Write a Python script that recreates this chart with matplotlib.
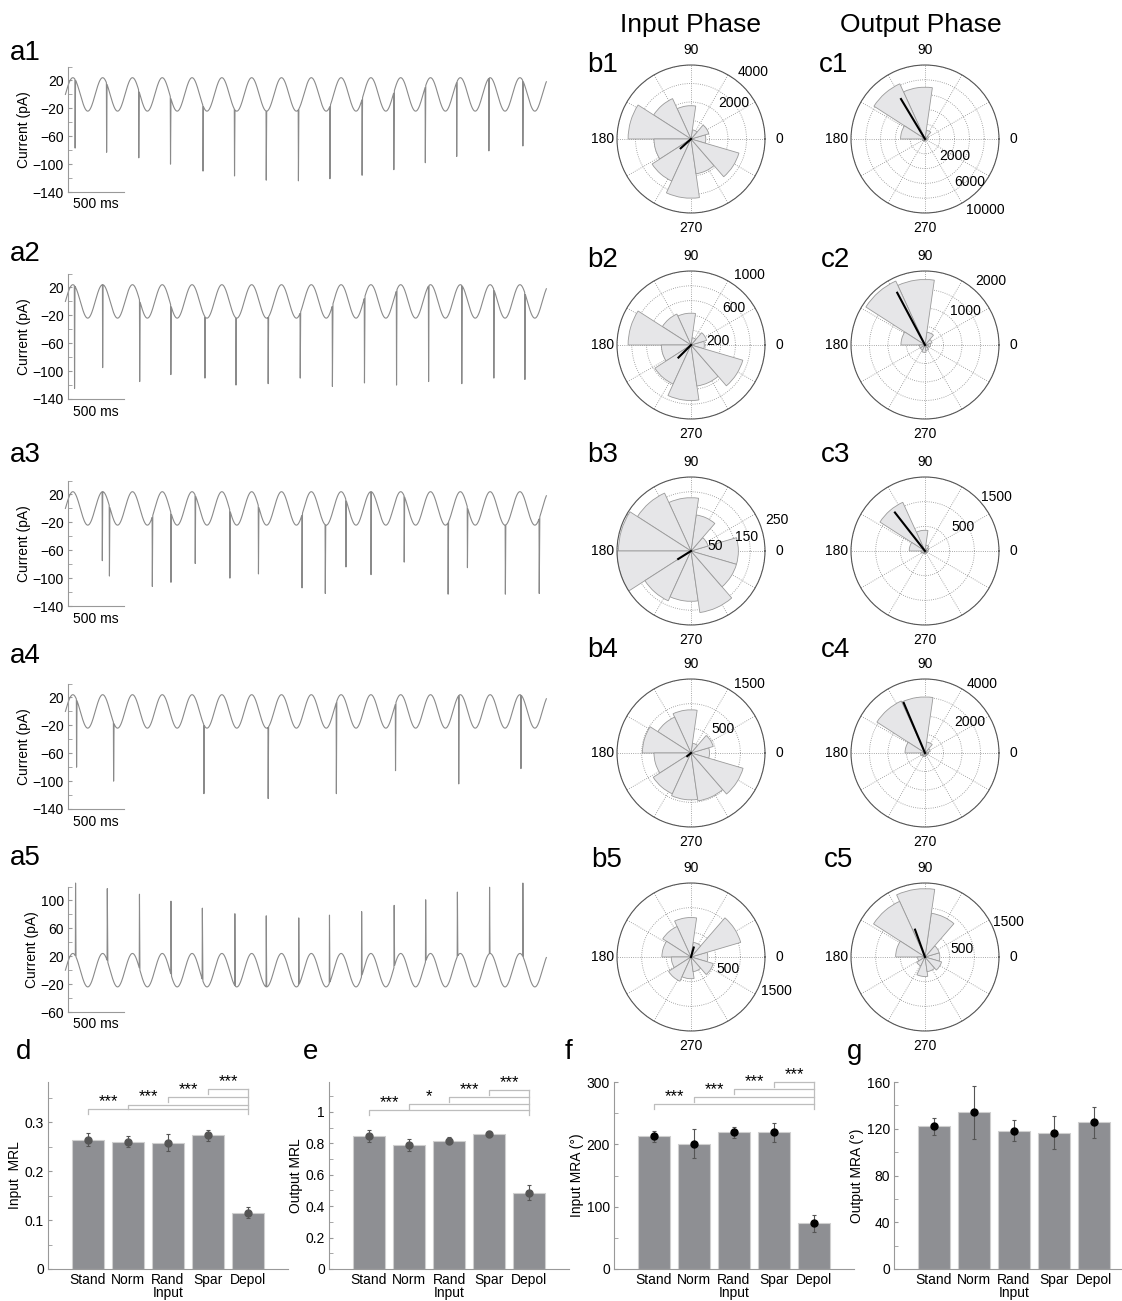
import numpy as np
import matplotlib
matplotlib.use('Agg')
import matplotlib.pyplot as plt

plt.rcParams['font.family'] = ['Liberation Sans', 'DejaVu Sans']

# ---------------- data ----------------
# sinusoidal input current (pA, ms) and spike events
PERIOD = 264
AMP = 24
T_END = 4260

a1_spk_t = [85, 364, 649, 930, 1218, 1497, 1778, 2063, 2342, 2627, 2908, 3187, 3465, 3750, 4051]
a1_spk_a = [-77, -83, -91, -100, -110, -117, -123, -124, -121, -116, -108, -98, -89, -81, -74]
a2_spk_t = [80, 329, 657, 933, 1235, 1510, 1795, 2079, 2364, 2648, 2932, 3216, 3510, 3794, 4069]
a2_spk_a = [-125, -95, -115, -105, -110, -120, -118, -110, -122, -117, -120, -115, -118, -110, -112]
a3_spk_t = [326, 389, 769, 934, 1149, 1456, 1709, 2095, 2301, 2484, 2706, 3000, 3389, 3560, 3896, 4196]
a3_spk_a = [-75, -97, -112, -106, -79, -100, -94, -114, -122, -84, -95, -77, -123, -85, -123, -122]
a4_spk_t = [98, 426, 1226, 1795, 2399, 2923, 3483, 4034]
a4_spk_a = [-80, -100, -118, -125, -118, -85, -104, -82]
a5_spk_t = [89, 370, 655, 934, 1212, 1500, 1778, 2066, 2338, 2623, 2911, 3190, 3471, 3756, 4051]
a5_spk_a = [125, 117, 109, 99, 89, 81, 78, 75, 79, 84, 93, 101, 112, 119, 125]

# rose histograms: 11 bins centred on k*360/11 deg
bin_centres = np.arange(11) * 360 / 11
b1_counts = [800, 1000, 500, 1800, 2400, 3400, 2000, 2500, 3200, 1900, 2700]
b2_counts = [180, 220, 100, 430, 460, 850, 400, 580, 750, 560, 730]
b3_counts = [160, 60, 123, 180, 215, 245, 250, 185, 170, 210, 160]
b4_counts = [375, 470, 200, 875, 800, 985, 750, 910, 950, 980, 1100]
b5_counts = [340, 1050, 300, 800, 680, 590, 400, 540, 440, 300, 470]
c1_counts = [300, 500, 1200, 7000, 8200, 3300, 400, 300, 300, 200, 200]
c2_counts = [150, 200, 350, 1770, 1900, 650, 150, 150, 200, 150, 100]
c3_counts = [60, 80, 120, 420, 1085, 320, 80, 60, 60, 50, 50]
c4_counts = [200, 300, 600, 3030, 3090, 1080, 250, 200, 200, 150, 150]
c5_counts = [300, 300, 895, 1385, 1240, 595, 150, 200, 395, 300, 350]

b_rmax = [4000, 1000, 250, 1500, 1500]
c_rmax = [10000, 2000, 1500, 4000, 1500]
b_rings = [[1000, 2000, 3000, 4000], [200, 400, 600, 800, 1000], [50, 100, 150, 200, 250],
           [500, 1000, 1500], [500, 1000, 1500]]
c_rings = [[2000, 4000, 6000, 8000, 10000], [500, 1000, 1500, 2000], [500, 1000, 1500],
           [1000, 2000, 3000, 4000], [500, 1000, 1500]]
# ring labels: (text, angle deg, radius as fraction of rmax)
b_rlabels = [[('2000', 40, 0.75), ('4000', 47, 1.24)],
             [('200', 9, 0.37), ('600', 41, 0.77), ('1000', 50, 1.23)],
             [('50', 12, 0.34), ('150', 14, 0.77), ('250', 20, 1.23)],
             [('500', 37, 0.54), ('1500', 50, 1.22)],
             [('500', -18, 0.52), ('1500', -22, 1.24)]]
c_rlabels = [[('2000', -29, 0.46), ('6000', -44, 0.84), ('10000', -50, 1.26)],
             [('1000', 40, 0.71), ('2000', 44, 1.24)],
             [('500', 32, 0.61), ('1500', 37, 1.21)],
             [('2000', 35, 0.74), ('4000', 50, 1.21)],
             [('500', 13, 0.51), ('1500', 23, 1.22)]]
# mean resultant vectors (angle deg, length)
b_mean = [(222, 750), (225, 240), (212, 51), (220, 100), (74, 200)]
c_mean = [(121, 6300), (118, 1600), (128, 990), (113, 2940), (110, 590)]

conds = ['Stand', 'Norm', 'Rand', 'Spar', 'Depol']
d_mean = [0.264, 0.260, 0.258, 0.273, 0.115]
d_err = [0.0136, 0.011, 0.0176, 0.011, 0.011]
e_mean = [0.847, 0.787, 0.817, 0.859, 0.485]
e_err = [0.037, 0.039, 0.024, 0.019, 0.047]
f_mean = [213, 201, 219, 219, 73]
f_err = [9, 23, 9, 14.6, 14]
g_mean = [122, 134, 118.5, 116.5, 125.4]
g_err = [7.6, 23, 8.8, 14, 13]

d_levels = [0.326, 0.336, 0.351, 0.367]
d_stars = ['***', '***', '***', '***']
e_levels = [1.013, 1.05, 1.093, 1.14]
e_stars = ['***', '*', '***', '***']
f_levels = [264.5, 276, 288.4, 300]
f_stars = ['***', '***', '***', '***']

# ---------------- figure ----------------
W, H = 1122, 1301
fig = plt.figure(figsize=(W / 100, H / 100), dpi=100)


def px_axes(x0, y0, w, h, **kw):
    return fig.add_axes([x0 / W, 1 - (y0 + h) / H, w / W, h / H], **kw)


def label(x, y, s, size=20):
    fig.text(x / W, 1 - y / H, s, fontsize=size, ha='left', va='center')


GREY = '#8a8a8a'

# ---- traces ----
trace_sets = [(a1_spk_t, a1_spk_a), (a2_spk_t, a2_spk_a), (a3_spk_t, a3_spk_a),
              (a4_spk_t, a4_spk_a), (a5_spk_t, a5_spk_a)]
trace_bottoms = [192, 399, 606, 809, 1012]
trace_letter_y = [53, 254, 455, 656, 858]
PX_PER_MS = 0.1129
PX_PER_PA = 0.697
X0 = 23

for i, (st, sa) in enumerate(trace_sets):
    if i < 4:
        ylo, yhi = -140, 40
    else:
        ylo, yhi = -60, 120
    w = (T_END + 30 - X0) * PX_PER_MS
    h = (yhi - ylo) * PX_PER_PA
    ax = px_axes(68, trace_bottoms[i] - h, w, h)
    t = np.arange(0, T_END + 0.5, 2.0)
    keep = np.ones(len(t), bool)
    et, ey = [], []
    for ts, a in zip(st, sa):
        keep &= ~((t > ts - 1) & (t < ts + 5))
        et += [ts - 1, ts + 1, ts + 5]
        ey += [AMP * np.sin(2 * np.pi * (ts - 1) / PERIOD), a,
               AMP * np.sin(2 * np.pi * (ts + 5) / PERIOD)]
    tt = np.concatenate([t[keep], et])
    yy = np.concatenate([AMP * np.sin(2 * np.pi * t[keep] / PERIOD), ey])
    o = np.argsort(tt)
    ax.plot(tt[o], yy[o], color=GREY, lw=0.8, clip_on=False)
    ax.set_xlim(X0, T_END + 30)
    ax.set_ylim(ylo, yhi)
    for s in ['top', 'right', 'bottom']:
        ax.spines[s].set_visible(False)
    ax.spines['left'].set_color('#999999')
    ax.spines['left'].set_linewidth(0.8)
    ax.set_xticks([])
    major = np.arange(ylo, yhi - 10, 40)
    ax.set_yticks(major)
    ax.set_yticklabels([str(v).replace('-', '\u2212') for v in major], fontsize=10)
    ax.set_yticks(np.arange(ylo + 20, yhi + 1, 40), minor=True)
    ax.tick_params(axis='y', which='both', direction='in', length=3, color='#999999', pad=3)
    ax.set_ylabel('Current (pA)', fontsize=10, labelpad=1)
    ax.plot([X0, X0 + 500], [ylo, ylo], color='#999999', lw=0.8, clip_on=False)
    ax.annotate('500 ms', xy=(X0 + 250, ylo), xytext=(0, -9), textcoords='offset points',
                ha='center', va='center', fontsize=10, annotation_clip=False)
    label(10, trace_letter_y[i], 'a%d' % (i + 1))

# ---- rose plots ----
R = 74
row_cy = [139, 345, 551, 753, 957]
col_cx = [691, 925]
b_all = [b1_counts, b2_counts, b3_counts, b4_counts, b5_counts]
c_all = [c1_counts, c2_counts, c3_counts, c4_counts, c5_counts]
letter_pos_b = [(587, 65), (587, 260), (587, 455), (587, 650), (591, 860)]
letter_pos_c = [(819, 65), (821, 260), (821, 455), (821, 650), (824, 860)]
width = np.deg2rad(360 / 11)

for col, (counts_all, rmaxs, rings, rlabs, means, lpos, pre) in enumerate([
        (b_all, b_rmax, b_rings, b_rlabels, b_mean, letter_pos_b, 'b'),
        (c_all, c_rmax, c_rings, c_rlabels, c_mean, letter_pos_c, 'c')]):
    for i in range(5):
        cx, cy = col_cx[col], row_cy[i]
        ax = px_axes(cx - R, cy - R, 2 * R, 2 * R, projection='polar')
        ax.bar(np.deg2rad(bin_centres), counts_all[i], width=width, bottom=0,
               color='#e6e6e8', edgecolor='#9a9a9a', linewidth=0.6, zorder=2)
        ax.set_ylim(0, rmaxs[i])
        ax.set_yticks(rings[i])
        ax.set_yticklabels([])
        ax.set_xticks(np.deg2rad(np.arange(0, 360, 30)))
        ax.set_xticklabels(['0', '', '', '90', '', '', '180', '', '', '270', '', ''], fontsize=10)
        ax.tick_params(axis='x', pad=0)
        ax.grid(True, linestyle=':', color='#8c8c8c', linewidth=0.6)
        ax.spines['polar'].set_color('#555555')
        ax.spines['polar'].set_linewidth(0.8)
        ang, ln = means[i]
        ax.plot([0, np.deg2rad(ang)], [0, ln], color='k', lw=1.5, zorder=3)
        for txt, a, fr in rlabs[i]:
            ax.text(np.deg2rad(a), fr * rmaxs[i], txt, fontsize=10, ha='center',
                    va='center', clip_on=False, zorder=4)
        label(lpos[i][0], lpos[i][1], '%s%d' % (pre, i + 1))

fig.text(690 / W, 1 - 25 / H, 'Input Phase', fontsize=19, ha='center', va='center')
fig.text(921 / W, 1 - 25 / H, 'Output Phase', fontsize=19, ha='center', va='center')

# ---- bar charts ----
bar_panels = [
    ('d', 48, d_mean, d_err, 0.382, [0, 0.1, 0.2, 0.3], ['0', '0.1', '0.2', '0.3'],
     [0.05, 0.15, 0.25, 0.35], 'Input  MRL', d_levels, d_stars, '#555555', 16),
    ('e', 329, e_mean, e_err, 1.19, [0, 0.2, 0.4, 0.6, 0.8, 1], ['0', '0.2', '0.4', '0.6', '0.8', '1'],
     [0.1, 0.3, 0.5, 0.7, 0.9, 1.1], 'Output MRL', e_levels, e_stars, '#555555', 303),
    ('f', 614, f_mean, f_err, 300, [0, 100, 200, 300], ['0', '100', '200', '300'],
     [50, 150, 250], 'Input MRA (\u00b0)', f_levels, f_stars, 'k', 565),
    ('g', 894, g_mean, g_err, 160, [0, 40, 80, 120, 160], ['0', '40', '80', '120', '160'],
     [20, 60, 100, 140], 'Output MRA (\u00b0)', None, None, 'k', 847),
]
x = np.arange(1, 6)
for name, left, mean, err, ytop, yt, ytl, ymin, ylab, levels, stars, pc, lx in bar_panels:
    ax = px_axes(left, 1082, 240, 187)
    ax.bar(x, mean, width=0.8, color='#8e8f93', edgecolor='#cfcfcf', linewidth=0.8)
    ax.errorbar(x, mean, yerr=err, fmt='o', color=pc, ms=5, ecolor='#555555',
                elinewidth=0.8, capsize=1.5, capthick=0.8)
    ax.set_xlim(0, 6)
    ax.set_ylim(0, ytop)
    ax.set_xticks(x)
    ax.set_xticklabels(conds, fontsize=10)
    ax.set_yticks(yt)
    ax.set_yticklabels(ytl, fontsize=10)
    ax.set_yticks(ymin, minor=True)
    ax.tick_params(axis='x', length=0, pad=3)
    ax.tick_params(axis='y', which='both', direction='in', length=3, color='#999999', pad=3)
    for s in ['top', 'right']:
        ax.spines[s].set_visible(False)
    for s in ['left', 'bottom']:
        ax.spines[s].set_color('#999999')
        ax.spines[s].set_linewidth(0.8)
    ax.set_ylabel(ylab, fontsize=10, labelpad=2)
    ax.annotate('Input', xy=(3, 0), xytext=(0, -17.5), textcoords='offset points',
                ha='center', va='center', fontsize=10, annotation_clip=False)
    if levels is not None:
        drop = ytop * 4.7 / 187
        for j, (lev, st) in enumerate(zip(levels, stars)):
            ax.plot([x[j], x[j], 5], [lev - drop, lev, lev], color='#bdbdbd', lw=0.9, clip_on=False)
            ax.text(x[j] + 0.5, lev, st, fontsize=12, ha='center', va='bottom')
        ax.plot([5, 5], [levels[0] - drop, levels[-1]], color='#bdbdbd', lw=0.9, clip_on=False)
    label(lx, 1052, name)

fig.savefig('out.png', dpi=100)
